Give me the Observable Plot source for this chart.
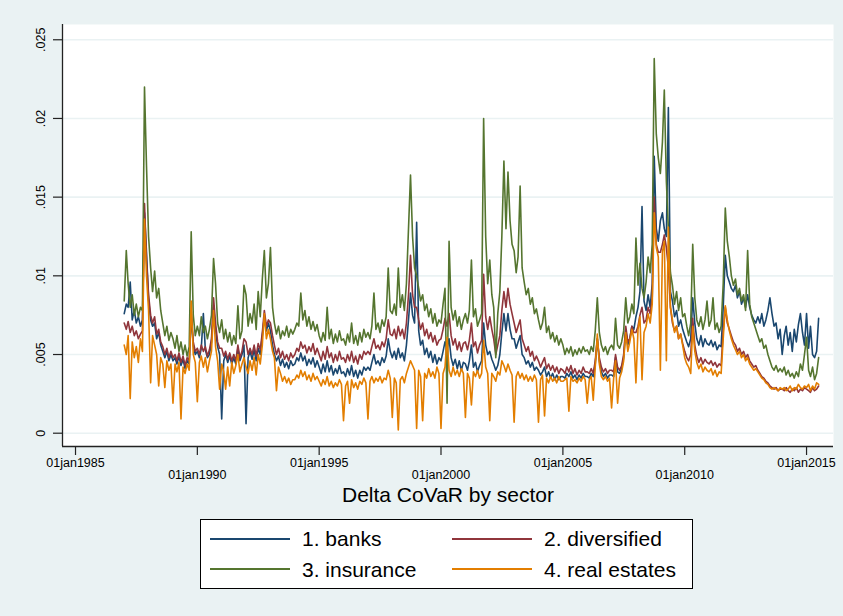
<!DOCTYPE html>
<html>
<head>
<meta charset="utf-8">
<script src="https://cdn.jsdelivr.net/npm/d3@7"></script>
<script src="https://cdn.jsdelivr.net/npm/@observablehq/plot@0.6"></script>
<style>
  html, body { margin: 0; padding: 0; background: #EAF2F3; }
  #wrap { position: relative; width: 843px; height: 616px; background: #EAF2F3; overflow: hidden;
          font-family: "Liberation Sans", Arial, sans-serif; }
  #chart { position: absolute; left: 0; top: 0; }
  #legend { position: absolute; left: 200px; top: 519px; width: 493px; height: 70px; box-sizing: border-box;
            border: 1px solid #000; background: #fff; }
  .sw { position: absolute; height: 2px; width: 80px; }
  .lt { position: absolute; font-size: 21px; line-height: 26px; height: 26px; color: #000; white-space: nowrap; }
</style>
</head>
<body>
<div id="wrap">
  <div id="chart"></div>
  <div id="legend"></div>
</div>
<script>
// ---- Data (values in thousandths; monthly observations Jan 1987 – Jul 2015) ----
const UNIT = 0.001;
const seriesNames = ["1. banks", "2. diversified", "3. insurance", "4. real estates"];
const seriesColors = ["#1A476F", "#90353B", "#55752F", "#E37E00"];

const banks = [
  7.6, 8.2, 8.0, 9.6, 7.2, 7.8, 7.0, 7.4, 6.8, 7.2, 14.0, 11.5,
  8.5, 7.2, 6.8, 7.0, 6.0, 6.4, 5.6, 5.2, 4.8, 5.2, 4.6, 5.0,
  4.6, 4.8, 4.4, 4.9, 4.3, 4.7, 4.1, 4.6, 4.4, 7.5, 5.6, 5.0,
  5.2, 4.8, 5.4, 7.6, 5.3, 4.8, 5.0, 5.8, 8.0, 6.6, 5.5, 5.0,
  0.9, 4.6, 5.0, 4.5, 4.9, 4.4, 4.8, 4.4, 5.4, 4.6, 5.0, 5.6,
  0.6, 4.8, 5.2, 4.7, 5.3, 4.6, 5.4, 5.0, 6.2, 7.4, 6.5, 7.0,
  6.5, 5.6, 5.0, 4.6, 4.9, 4.3, 4.7, 4.2, 4.5, 4.1, 4.6, 4.3,
  4.4, 4.8, 4.6, 5.1, 4.6, 4.9, 4.3, 4.7, 4.4, 4.8, 4.2, 4.6,
  4.2, 3.8, 4.4, 3.9, 4.6, 3.9, 4.3, 3.7, 4.1, 3.8, 4.3, 3.8,
  3.9, 3.6, 4.1, 3.7, 4.3, 3.6, 4.0, 3.5, 4.0, 3.7, 4.2, 4.0,
  4.2, 4.0, 4.5, 5.0, 4.4, 4.6, 4.3, 4.8, 4.5, 4.9, 6.0, 5.2,
  4.8, 5.2, 4.7, 5.4, 4.8, 5.1, 4.6, 5.6, 7.2, 8.9, 7.5, 7.0,
  13.4, 6.5, 5.6, 5.9, 5.0, 5.4, 4.8, 5.2, 4.5, 5.0, 4.4, 4.8,
  4.6, 5.2, 5.8, 5.4, 6.0, 4.8, 4.3, 4.7, 4.1, 4.6, 4.0, 4.5,
  4.4, 4.0, 4.6, 5.6, 4.2, 4.5, 3.9, 4.3, 4.6, 7.0, 5.6, 5.0,
  5.2, 4.7, 4.4, 4.0, 4.3, 5.0, 6.4, 7.6, 6.5, 7.6, 6.6, 6.0,
  6.0, 5.4, 5.8, 6.2, 5.0, 4.8, 4.4, 4.6, 4.2, 4.5, 4.0, 4.2,
  4.0, 3.7, 3.9, 4.2, 3.6, 3.9, 3.5, 3.8, 3.4, 3.7, 3.4, 3.6,
  3.6, 3.5, 3.8, 3.6, 3.9, 3.5, 3.7, 3.4, 3.7, 3.5, 3.8, 3.6,
  3.6, 3.5, 3.8, 3.6, 4.4, 6.0, 4.6, 3.9, 3.6, 3.8, 3.5, 3.7,
  3.7, 3.6, 4.8, 3.9, 3.8, 4.1, 4.8, 6.6, 5.6, 6.0, 6.8, 6.6,
  7.4, 8.0, 9.0, 14.4, 8.4, 7.8, 8.8, 8.0, 9.5, 17.6, 13.0, 12.2,
  13.5, 14.0, 13.0, 12.5, 20.7, 9.0, 8.4, 7.4, 7.8, 6.8, 7.2, 6.6,
  6.2, 5.8, 5.5, 6.0, 8.6, 7.0, 6.0, 5.6, 6.2, 5.5, 6.0, 5.7,
  5.6, 5.9, 5.5, 5.8, 5.3, 5.6, 5.5, 8.0, 11.3, 10.0, 9.6, 9.2,
  9.0, 9.4, 8.6, 9.0, 8.2, 8.6, 8.0, 8.8, 8.0, 7.5, 7.2, 7.0,
  7.4, 7.0, 7.6, 6.8, 7.2, 7.8, 8.6, 7.6, 6.8, 7.0, 6.0, 6.6,
  5.0, 6.2, 6.8, 5.6, 6.4, 5.2, 6.6, 5.8, 6.9, 7.6, 6.4, 5.6,
  7.6, 5.4, 6.8, 5.0, 4.8, 5.2, 7.3
];

const diversified = [
  7.0, 6.6, 7.1, 6.4, 6.8, 6.2, 6.5, 6.0, 6.3, 6.5, 14.6, 11.0,
  8.8, 7.5, 7.0, 7.4, 6.3, 6.6, 5.8, 5.5, 5.0, 5.4, 4.8, 5.2,
  4.8, 5.0, 4.6, 5.1, 4.5, 4.9, 4.3, 4.8, 4.6, 7.8, 5.8, 5.2,
  5.4, 5.0, 5.6, 5.2, 5.5, 4.9, 5.3, 6.0, 8.6, 7.0, 5.8, 5.4,
  5.4, 4.9, 5.2, 4.7, 5.1, 4.6, 5.0, 4.6, 5.6, 4.8, 5.2, 6.0,
  5.8, 5.0, 5.4, 5.0, 5.6, 4.9, 5.7, 5.3, 6.4, 7.8, 6.8, 7.2,
  7.0, 6.2, 5.6, 5.0, 5.4, 4.8, 5.2, 4.7, 5.0, 4.6, 5.1, 4.8,
  5.0, 5.4, 5.2, 5.8, 5.4, 5.6, 5.1, 5.5, 5.2, 5.7, 5.0, 5.4,
  5.0, 4.6, 5.2, 4.7, 5.5, 4.8, 5.1, 4.5, 5.0, 4.6, 5.2, 4.7,
  4.8, 4.5, 5.0, 4.6, 5.2, 4.5, 4.9, 4.4, 5.0, 4.7, 5.2, 5.0,
  5.2, 5.0, 5.5, 6.0, 5.4, 5.6, 5.3, 5.8, 5.5, 6.0, 7.2, 6.3,
  6.2, 6.6, 6.0, 6.8, 6.2, 6.6, 6.0, 7.0, 8.8, 11.3, 8.8, 8.0,
  8.0, 7.2, 6.6, 7.0, 6.2, 6.6, 6.0, 6.4, 5.8, 6.2, 5.6, 5.9,
  6.0, 6.6, 7.3, 6.8, 7.6, 6.2, 5.6, 6.0, 5.3, 5.8, 5.2, 5.7,
  5.8, 5.3, 5.9, 7.0, 5.5, 5.8, 5.1, 5.6, 5.9, 10.1, 7.4, 6.6,
  7.4, 6.6, 6.0, 5.0, 5.6, 6.2, 7.8, 9.0, 8.0, 9.2, 8.2, 7.6,
  7.0, 6.4, 6.8, 7.2, 6.0, 5.6, 5.2, 5.5, 4.9, 5.2, 4.6, 4.9,
  4.6, 4.2, 4.5, 4.8, 4.1, 4.4, 4.0, 4.3, 3.9, 4.2, 3.8, 4.1,
  4.0, 3.8, 4.2, 3.9, 4.3, 3.8, 4.1, 3.7, 4.0, 3.8, 4.2, 3.9,
  3.9, 3.8, 4.1, 3.8, 4.6, 6.0, 4.8, 4.2, 3.9, 4.1, 3.8, 4.0,
  4.0, 3.9, 5.0, 4.2, 4.0, 4.3, 5.0, 6.8, 5.8, 6.0, 6.8, 6.4,
  6.4, 6.8, 7.5, 8.0, 7.0, 7.2, 8.0, 7.6, 8.6, 15.0, 12.0, 11.5,
  11.5, 12.0, 12.6, 11.8, 10.5, 8.0, 7.0, 6.5, 6.8, 6.0, 6.3, 5.7,
  5.2, 4.8, 4.6, 5.0, 7.3, 5.6, 4.9, 4.5, 4.8, 4.4, 4.7, 4.5,
  4.4, 4.6, 4.3, 4.5, 4.2, 4.4, 4.3, 6.5, 8.0, 7.0, 6.6, 6.2,
  5.8, 5.6, 5.2, 5.4, 5.0, 5.2, 4.8, 5.0, 4.6, 4.4, 4.2, 4.3,
  4.0, 3.8, 3.6, 3.5, 3.3, 3.2, 3.0, 2.9, 2.8, 2.9, 2.7, 2.8,
  2.8, 2.7, 2.9, 2.7, 2.6, 2.8, 2.7, 2.9, 2.6, 2.8, 2.7, 2.9,
  2.8, 2.7, 2.6, 2.9, 2.7, 2.8, 3.0
];

const insurance = [
  8.4, 11.6, 9.5, 8.0, 8.8, 7.5, 8.2, 7.4, 8.0, 7.8, 22.0, 17.0,
  12.5, 10.5, 9.0, 10.3, 8.6, 9.2, 7.8, 7.0, 6.2, 6.8, 5.9, 6.4,
  6.0, 5.4, 6.2, 5.2, 5.8, 5.0, 5.6, 4.9, 5.5, 12.8, 7.5, 6.2,
  6.8, 6.2, 7.4, 6.4, 6.8, 6.0, 6.6, 7.5, 11.1, 9.5, 7.0, 6.4,
  7.2, 6.0, 6.6, 5.8, 6.4, 5.6, 6.2, 5.7, 8.1, 6.0, 6.5, 9.4,
  8.8, 6.8, 7.6, 7.0, 8.2, 6.6, 9.0, 7.4, 9.8, 11.6, 8.6, 9.5,
  11.8, 8.0, 7.0, 6.3, 6.8, 6.0, 6.5, 6.2, 6.8, 6.1, 6.6, 6.3,
  6.6, 7.0, 6.8, 8.9, 7.2, 7.8, 6.8, 7.4, 6.6, 7.1, 6.5, 6.9,
  6.2, 5.8, 6.4, 5.9, 8.0, 6.0, 6.6, 5.7, 6.3, 5.8, 6.5, 5.9,
  6.0, 5.6, 6.3, 5.8, 7.0, 5.7, 6.2, 5.6, 6.4, 5.8, 6.6, 6.1,
  6.4, 6.0, 6.8, 8.9, 6.6, 7.0, 6.4, 7.2, 6.8, 7.4, 10.5, 7.8,
  7.6, 8.2, 7.5, 10.5, 8.0, 8.8, 7.8, 9.5, 13.0, 16.4, 12.5, 10.5,
  10.0, 9.2, 8.4, 8.8, 7.8, 8.2, 7.4, 7.9, 7.0, 7.6, 6.8, 7.2,
  7.0, 8.2, 9.2, 1.9, 12.2, 8.0, 7.2, 7.8, 6.8, 7.4, 6.6, 7.2,
  7.6, 7.0, 7.8, 11.0, 7.4, 7.9, 6.8, 7.2, 7.6, 20.0, 12.5, 9.5,
  11.0, 8.8, 8.0, 4.8, 7.6, 9.0, 12.5, 17.3, 13.0, 16.6, 13.5, 12.0,
  11.6, 10.2, 11.2, 15.7, 10.5, 9.6, 8.8, 9.2, 8.2, 8.6, 7.6, 7.9,
  7.2, 6.6, 7.0, 8.0, 6.4, 6.8, 6.0, 6.4, 5.8, 6.2, 5.6, 6.0,
  5.6, 5.0, 5.4, 5.1, 5.5, 4.9, 5.3, 5.0, 5.4, 5.1, 5.5, 5.2,
  5.3, 5.0, 5.5, 5.2, 6.5, 8.6, 6.4, 5.6, 5.2, 5.5, 5.0, 5.4,
  5.6, 5.3, 7.3, 5.6, 5.4, 5.8, 6.5, 8.6, 7.0, 7.4, 8.2, 7.6,
  12.4, 9.4, 10.8, 9.2, 8.6, 9.6, 11.2, 10.2, 12.0, 23.8, 19.0, 17.5,
  16.5, 18.5, 21.8, 16.0, 13.0, 10.2, 9.4, 8.2, 9.0, 7.8, 8.6, 7.4,
  7.6, 6.8, 6.2, 7.0, 12.0, 8.6, 7.2, 6.8, 7.4, 6.6, 7.2, 8.4,
  6.8, 7.2, 8.6, 6.6, 7.0, 6.4, 6.8, 9.5, 14.3, 12.2, 11.2, 10.0,
  9.4, 9.8, 8.8, 9.2, 8.4, 8.8, 7.8, 11.6, 8.2, 7.4, 7.0, 6.6,
  6.2, 5.8, 6.0, 5.4, 5.6, 5.0, 4.6, 4.2, 4.0, 4.3, 3.9, 4.1,
  3.9, 4.2, 3.7, 4.0, 3.6, 3.8, 3.5, 3.9, 3.6, 4.4, 4.0, 5.0,
  6.1, 4.0, 3.6, 4.2, 3.4, 3.8, 4.8
];

const realEstates = [
  5.6, 5.0, 6.2, 2.2, 5.8, 4.8, 5.5, 4.5, 6.0, 5.2, 13.6, 10.0,
  7.8, 3.2, 6.2, 5.6, 5.0, 3.0, 4.8, 4.4, 2.9, 4.6, 4.0, 4.4,
  1.9, 4.4, 3.9, 4.5, 0.9, 4.2, 3.8, 4.4, 4.0, 8.4, 5.0, 4.5,
  2.0, 4.5, 4.9, 4.2, 4.8, 3.9, 4.6, 5.2, 7.8, 5.5, 4.6, 2.8,
  4.4, 3.9, 2.8, 4.2, 3.0, 4.5, 3.8, 4.3, 5.0, 3.9, 4.4, 4.8,
  4.2, 3.8, 4.6, 4.0, 4.8, 3.7, 5.0, 4.4, 5.6, 7.6, 6.0, 6.6,
  6.0, 5.2, 4.8, 2.7, 4.2, 3.8, 3.3, 3.6, 3.2, 3.5, 3.1, 3.4,
  3.4, 3.7, 3.5, 4.0, 3.6, 3.9, 3.4, 3.7, 3.3, 3.8, 3.4, 3.6,
  3.3, 3.0, 3.4, 3.1, 3.6, 3.0, 3.3, 2.9, 3.2, 3.0, 3.4, 3.1,
  0.8, 3.0, 3.3, 1.9, 3.4, 2.9, 3.2, 2.8, 3.3, 3.1, 3.5, 3.2,
  0.9, 3.3, 3.6, 3.2, 3.5, 3.3, 3.6, 3.2, 3.5, 3.4, 4.0, 3.5,
  1.0, 3.5, 3.2, 0.2, 3.4, 3.6, 3.2, 3.8, 4.2, 4.6, 4.3, 4.0,
  0.3, 4.0, 3.6, 0.8, 3.8, 3.5, 4.1, 3.6, 3.9, 3.5, 4.2, 3.8,
  0.3, 3.8, 4.2, 6.1, 4.0, 3.6, 4.2, 3.7, 4.0, 3.6, 4.1, 3.8,
  1.0, 3.8, 3.5, 1.8, 3.9, 3.6, 4.0, 3.5, 3.8, 5.9, 4.2, 3.8,
  0.8, 3.8, 3.6, 3.3, 3.9, 3.7, 4.6, 4.3, 3.9, 4.4, 4.0, 3.7,
  0.7, 3.6, 3.9, 3.5, 3.8, 3.4, 3.7, 3.3, 3.6, 3.3, 3.7, 3.4,
  0.7, 3.4, 3.7, 1.1, 3.5, 3.2, 3.6, 3.3, 3.5, 3.2, 3.6, 3.3,
  3.3, 3.4, 3.5, 1.4, 3.6, 3.3, 3.4, 3.2, 3.5, 3.3, 3.6, 3.4,
  1.9, 3.4, 3.6, 2.1, 4.2, 6.3, 4.4, 3.6, 3.4, 3.6, 3.3, 3.5,
  1.6, 3.5, 4.6, 1.9, 3.5, 3.9, 4.6, 6.4, 5.2, 5.8, 6.6, 6.0,
  3.2, 6.6, 7.4, 3.4, 6.4, 6.8, 7.6, 7.0, 8.2, 14.0, 11.8, 11.2,
  4.0, 11.5, 12.2, 4.6, 13.1, 8.0, 7.2, 6.4, 6.8, 6.0, 6.3, 5.6,
  4.8, 4.4, 4.2, 3.8, 6.8, 5.2, 4.5, 4.1, 4.4, 3.9, 4.2, 4.0,
  3.9, 4.1, 3.7, 4.0, 3.6, 3.9, 3.8, 6.0, 8.1, 7.2, 6.5, 6.0,
  5.6, 5.3, 5.0, 5.2, 4.8, 5.0, 4.6, 4.8, 4.4, 4.2, 4.0, 4.1,
  3.9, 3.7, 3.5, 3.4, 3.2, 3.1, 2.9, 2.8, 2.9, 2.8, 2.7, 2.9,
  2.8, 2.9, 2.7, 2.8, 3.0, 2.7, 2.9, 2.8, 3.1, 2.9, 2.8, 3.0,
  2.9, 3.1, 2.7, 3.0, 2.8, 3.2, 3.1
];

// Observation dates: first of each month, Jan 1987 .. Jul 2015
const months = d3.utcMonth.range(new Date(Date.UTC(1987, 0, 1)), new Date(Date.UTC(2015, 7, 1)));

// Axis ticks
const yTicks = [0, 0.005, 0.01, 0.015, 0.02, 0.025];
const yTickLabels = ["0", ".005", ".01", ".015", ".02", ".025"];
const xTickYears = [1985, 1990, 1995, 2000, 2005, 2010, 2015];
const xTickLabels = ["01jan1985", "01jan1990", "01jan1995", "01jan2000", "01jan2005", "01jan2010", "01jan2015"];
const xTitle = "Delta CoVaR by sector";

// ---- Build tidy rows ----
const allValues = [banks, diversified, insurance, realEstates];
const rows = [];
allValues.forEach((vals, s) => {
  vals.forEach((v, i) => { if (i < months.length) rows.push({date: months[i], v: v * UNIT, s}); });
});
const xTicks = xTickYears.map(y => new Date(Date.UTC(y, 0, 1)));
const xTickRows = xTicks.map((d, i) => ({d, label: xTickLabels[i], row: i % 2}));
const yTickRows = yTicks.map((v, i) => ({v, label: yTickLabels[i]}));

const xDomain = [new Date(Date.UTC(1984, 5, 20)), new Date(Date.UTC(2016, 1, 9))];
const yDomain = [-0.000845, 0.02597];
const font = '"Liberation Sans", Arial, sans-serif';

const chart = Plot.plot({
  width: 843,
  height: 512,
  marginLeft: 62,
  marginRight: 10,
  marginTop: 24,
  marginBottom: 66,
  style: {background: "transparent", fontFamily: font, fontSize: "12.5px", color: "#000", overflow: "visible"},
  x: {type: "utc", domain: xDomain, axis: null, label: null},
  y: {domain: yDomain, axis: null, label: null},
  marks: [
    Plot.frame({fill: "white", stroke: null}),
    Plot.gridY(yTicks, {stroke: "#EAF2F3", strokeOpacity: 1, strokeWidth: 1.6}),
    ...allValues.map((_, s) => Plot.line(rows.filter(r => r.s === s), {
      x: "date", y: "v", stroke: seriesColors[s], strokeWidth: 1.6, strokeLinejoin: "round"
    })),
    // y axis: ticks + rotated labels
    Plot.axisY(yTicks, {tickSize: 9, tickFormat: () => "", label: null, stroke: "#222", strokeWidth: 1.2}),
    Plot.text(yTickRows, {y: "v", text: "label", frameAnchor: "left", dx: -22, rotate: -90,
      textAnchor: "middle", fontSize: 12.5, fill: "#000"}),
    // x axis: ticks + staggered labels
    Plot.axisX(xTicks, {tickSize: 9, tickFormat: () => "", label: null, stroke: "#222", strokeWidth: 1.2}),
    Plot.text(xTickRows.filter(d => d.row === 0), {x: "d", text: "label", frameAnchor: "bottom", dy: 20,
      fontSize: 12.5, fill: "#000"}),
    Plot.text(xTickRows.filter(d => d.row === 1), {x: "d", text: "label", frameAnchor: "bottom", dy: 32,
      fontSize: 12.5, fill: "#000"}),
    // axis lines
    Plot.ruleX([xDomain[0]], {stroke: "#222", strokeWidth: 1.3}),
    Plot.ruleY([yDomain[0]], {stroke: "#222", strokeWidth: 1.3}),
    // x title
    Plot.text([xTitle], {frameAnchor: "bottom", dy: 55, fontSize: 21, fill: "#000"})
  ]
});
document.getElementById("chart").appendChild(chart);

// ---- Legend (HTML, below the SVG plot area) ----
const legend = document.getElementById("legend");
const legPos = [
  {sx: 9, tx: 101, ly: 18, ty: 6.4}, {sx: 251, tx: 343, ly: 18, ty: 6.4},
  {sx: 9, tx: 101, ly: 48, ty: 37.4}, {sx: 251, tx: 343, ly: 48, ty: 37.4}
];
seriesNames.forEach((name, i) => {
  const p = legPos[i];
  const sw = document.createElement("div");
  sw.className = "sw";
  sw.style.left = p.sx + "px";
  sw.style.top = p.ly + "px";
  sw.style.background = seriesColors[i];
  legend.appendChild(sw);
  const t = document.createElement("div");
  t.className = "lt";
  t.style.left = p.tx + "px";
  t.style.top = p.ty + "px";
  t.textContent = name;
  legend.appendChild(t);
});
</script>
</body>
</html>
